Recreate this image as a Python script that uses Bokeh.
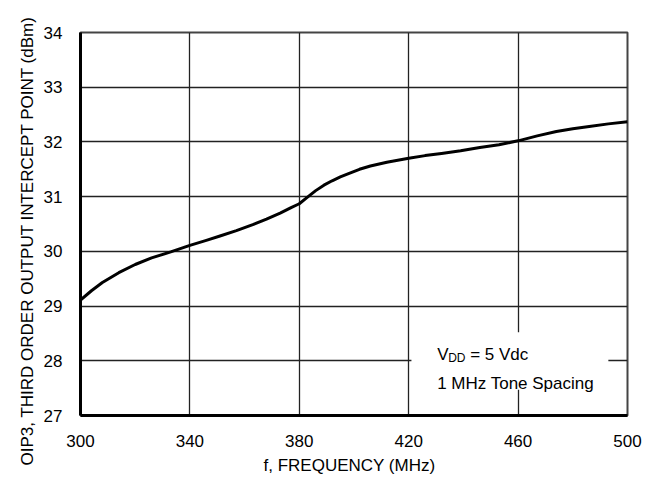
from bokeh.plotting import figure
from bokeh.models import Range1d, FixedTicker, Label, BoxAnnotation, Title
from bokeh.embed import file_html
from bokeh.resources import INLINE

# Data
freq_mhz = [300, 304, 308, 314, 320, 326, 333, 340, 346, 351, 357, 363, 368, 373,
            377, 380, 383, 386, 389, 392, 395, 398, 402, 406, 412, 420, 426, 432,
            439, 446, 453, 460, 467, 474, 480, 486, 493, 500]
oip3_dbm = [29.11, 29.28, 29.43, 29.61, 29.76, 29.88, 29.99, 30.11, 30.20, 30.28,
            30.38, 30.49, 30.59, 30.70, 30.80, 30.87, 30.99, 31.11, 31.21, 31.29,
            31.36, 31.42, 31.50, 31.56, 31.63, 31.70, 31.75, 31.79, 31.84, 31.90,
            31.95, 32.02, 32.11, 32.19, 32.24, 32.28, 32.33, 32.37]

x_ticks = [300, 340, 380, 420, 460, 500]
y_ticks = [27, 28, 29, 30, 31, 32, 33, 34]

x_label = "f, FREQUENCY (MHz)"
y_label = "OIP3, THIRD ORDER OUTPUT INTERCEPT POINT (dBm)"

FONT = "Liberation Sans"
FS = "17px"

p = figure(width=646, height=478, output_backend="svg", toolbar_location=None,
           x_range=Range1d(300, 500), y_range=Range1d(27, 34),
           min_border_left=80, min_border_right=19, min_border_top=32,
           min_border_bottom=63)
p.background_fill_color = "white"
p.border_fill_color = "white"
p.outline_line_color = "#444444"
p.outline_line_width = 2

for ax, ticks in ((p.xaxis, x_ticks), (p.yaxis, y_ticks)):
    ax.ticker = FixedTicker(ticks=ticks)
    ax.axis_line_color = "black"
    ax.axis_line_width = 3
    ax.major_tick_line_color = None
    ax.minor_tick_line_color = None
    ax.major_label_text_font = FONT
    ax.major_label_text_font_size = FS
    ax.major_label_text_color = "black"
p.xaxis.major_label_standoff = 13
p.yaxis.major_label_standoff = 12

# axis titles as Title panels so they can be offset like the reference
p.add_layout(Title(text=y_label, align="left", offset=-50, standoff=8,
                   text_font=FONT, text_font_size=FS, text_font_style="normal",
                   text_color="black"), "left")
p.add_layout(Title(text=x_label, align="left", offset=183, standoff=8,
                   text_font=FONT, text_font_size=FS, text_font_style="normal",
                   text_color="black"), "below")

p.xgrid.ticker = FixedTicker(ticks=x_ticks)
p.ygrid.ticker = FixedTicker(ticks=y_ticks)
for g in (p.xgrid, p.ygrid):
    g.grid_line_color = "#222222"
    g.grid_line_width = 1.3

p.line(freq_mhz, oip3_dbm, line_color="black", line_width=3, line_join="round")

# white box behind the note
p.add_layout(BoxAnnotation(left=421, right=493, bottom=27.47, top=28.52,
                           fill_color="white", fill_alpha=1.0, line_color=None))

base_x, base_y1, base_y2 = 430.4, 28.12, 27.59
note_style = dict(text_font=FONT, text_color="black", text_baseline="alphabetic")
p.add_layout(Label(x=base_x, y=base_y1, text="V", text_font_size=FS, **note_style))
p.add_layout(Label(x=base_x, y=base_y1, x_offset=11, y_offset=-4, text="DD",
                   text_font_size="12px", **note_style))
p.add_layout(Label(x=base_x, y=base_y1, x_offset=33, text="= 5 Vdc",
                   text_font_size=FS, **note_style))
p.add_layout(Label(x=base_x, y=base_y2, text="1 MHz Tone Spacing",
                   text_font_size=FS, **note_style))

open("out.html", "w").write(file_html(p, INLINE))
